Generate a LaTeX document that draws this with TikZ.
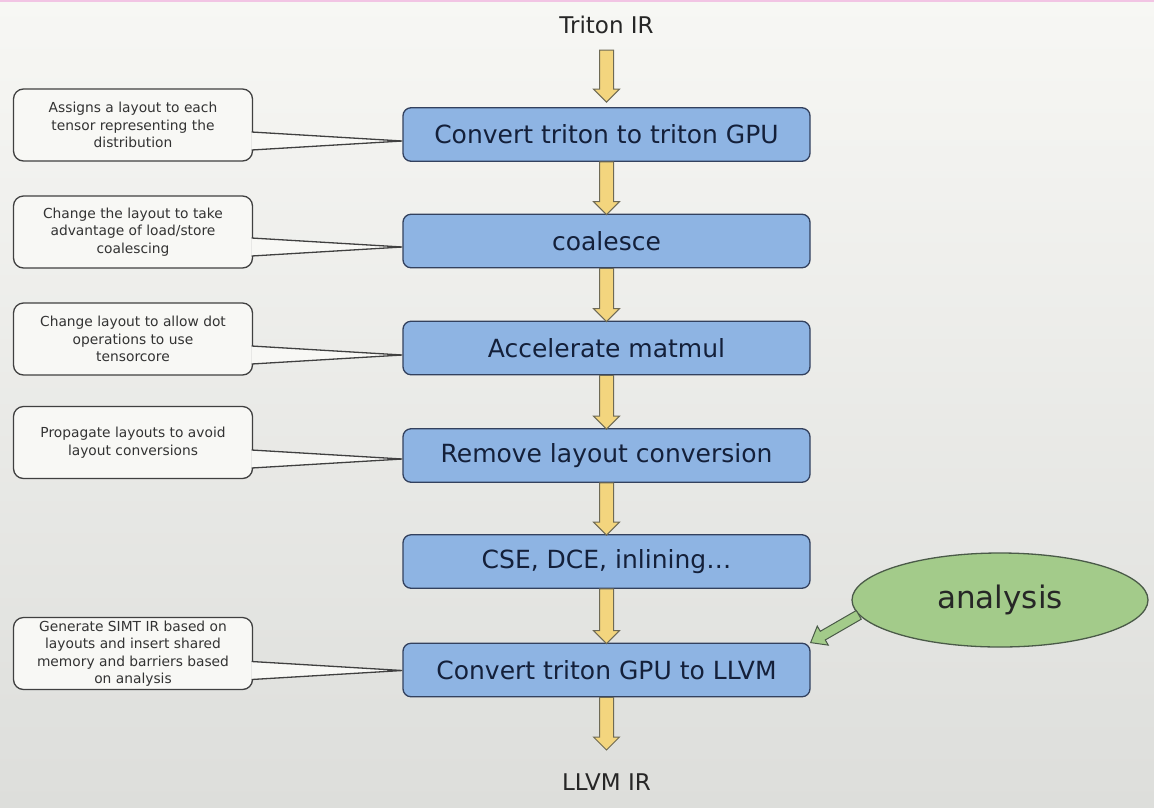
\documentclass[tikz,border=0pt]{standalone}
\usepackage{fontspec}
\setmainfont{DejaVu Sans}
\usetikzlibrary{shapes.geometric,calc}
\definecolor{bgtop}{HTML}{F7F7F4}
\definecolor{bgbot}{HTML}{DDDEDB}
\definecolor{boxfill}{HTML}{8EB4E3}
\definecolor{boxline}{HTML}{33415E}
\definecolor{boxtext}{HTML}{14203A}
\definecolor{yfill}{HTML}{F3D57E}
\definecolor{yline}{HTML}{6E6A55}
\definecolor{cfill}{HTML}{F8F8F5}
\definecolor{cline}{HTML}{404040}
\definecolor{ctext}{HTML}{333333}
\definecolor{gfill}{HTML}{A3CB8A}
\definecolor{gline}{HTML}{4A5A48}
\definecolor{pinkline}{HTML}{F2C4E4}
\tikzset{
  stage/.style={draw=boxline, line width=1.3pt, fill=boxfill, rounded corners=8pt,
    minimum width=407pt, minimum height=53.5pt, inner sep=0pt, text=boxtext,
    font=\fontsize{25}{30}\selectfont},
  callout/.style={draw=cline, line width=1.3pt, fill=cfill, rounded corners=10pt,
    minimum width=239pt, minimum height=72pt, inner sep=0pt, text=ctext, align=center,
    font=\fontsize{13.8}{17.5}\selectfont},
  iolabel/.style={inner sep=0pt, anchor=base, text=black!85, font=\fontsize{23}{28}\selectfont},
  analysisnode/.style={ellipse, draw=gline, fill=gfill, line width=1.3pt,
    minimum width=296pt, minimum height=94pt, inner sep=0pt, text=black!85,
    font=\fontsize{31}{36}\selectfont},
  blockarrow/.style n args={3}{to path={
    let \p1=(\tikztostart), \p2=(\tikztotarget), \n1={atan2(\y2-\y1,\x2-\x1)} in
    ($(\p1)+({\n1+90}:#1)$)
    -- ($(\p2)+({\n1+180}:#3)+({\n1+90}:#1)$)
    -- ($(\p2)+({\n1+180}:#3)+({\n1+90}:#2)$)
    -- (\p2)
    -- ($(\p2)+({\n1+180}:#3)+({\n1-90}:#2)$)
    -- ($(\p2)+({\n1+180}:#3)+({\n1-90}:#1)$)
    -- ($(\p1)+({\n1-90}:#1)$) -- cycle}},
  yarrow/.style={blockarrow={7pt}{13pt}{13pt}, fill=yfill, draw=yline, line width=1pt},
  garrow/.style={blockarrow={5pt}{11pt}{14pt}, fill=gfill, draw=gline, line width=1pt},
  wedge/.style={fill=cfill, draw=cline, line width=1.3pt, to path={
    let \p1=(\tikztostart), \p2=(\tikztotarget) in
    ({\x1-1.5pt},{\y2+9pt}) -- (\p2) -- ({\x1-1.5pt},{\y2-9pt})}},
}
\begin{document}
\begin{tikzpicture}[x=1pt,y=-1pt]
\useasboundingbox (0,0) rectangle (1154,807);
\shade[top color=bgtop, bottom color=bgbot] (0,0) rectangle (1154,807);
\fill[pinkline] (0,0) rectangle (1154,2);

\node[iolabel] (tir) at (606.5,33) {Triton IR};
\node[stage] (b1) at (606.5,134.5) {Convert triton to triton GPU};
\node[stage] (b2) at (606.5,241) {coalesce};
\node[stage] (b3) at (606.5,348) {Accelerate matmul};
\node[stage] (b4) at (606.5,455.5) {Remove layout conversion};
\node[stage] (b5) at (606.5,561.5) {CSE, DCE, inlining…};
\node[stage] (b6) at (606.5,670) {Convert triton GPU to LLVM};
\node[iolabel] (llvm) at (606.5,790) {LLVM IR};

\path[yarrow] ([yshift=-17pt]tir.base) to ([yshift=5pt]b1.north);
\path[yarrow] (b1.south) to ([yshift=-1pt]b2.north);
\path[yarrow] (b2.south) to ([yshift=-1pt]b3.north);
\path[yarrow] (b3.south) to ([yshift=-1pt]b4.north);
\path[yarrow] (b4.south) to ([yshift=-1pt]b5.north);
\path[yarrow] (b5.south) to ([yshift=-1pt]b6.north);
\path[yarrow] (b6.south) to ([yshift=40pt]llvm.base);

\node[callout] (c1) at (133,125) {Assigns a layout to each\\tensor representing the\\distribution};
\node[callout] (c2) at (133,232) {Change the layout to take\\advantage of load/store\\coalescing};
\node[callout] (c3) at (133,339) {Change layout to allow dot\\operations to use\\tensorcore};
\node[callout] (c4) at (133,442.5) {Propagate layouts to avoid\\layout conversions};
\node[callout] (c6) at (133,653.5) {Generate SIMT IR based on\\layouts and insert shared\\memory and barriers based\\on analysis};

\path[wedge] (c1.east) to ([yshift=-6.5pt]b1.west);
\path[wedge] (c2.east) to ([yshift=-6pt]b2.west);
\path[wedge] (c3.east) to ([yshift=-7pt]b3.west);
\path[wedge] (c4.east) to ([yshift=-3.5pt]b4.west);
\path[wedge] (c6.east) to ([yshift=-0.5pt]b6.west);

\node[analysisnode] (an) at (1000,600) {analysis};
\path[garrow] (an.186) to (b6.north east);
\end{tikzpicture}
\end{document}
